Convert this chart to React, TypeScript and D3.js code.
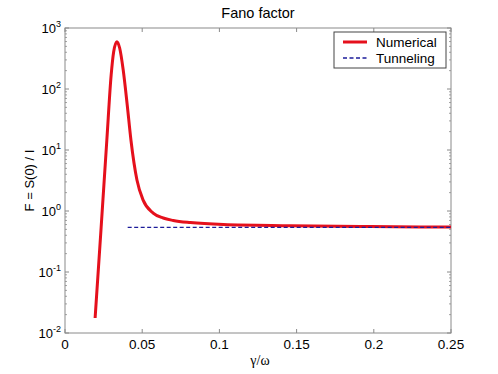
import React from 'react';
import * as d3 from 'd3';

const W = 498;
const H = 374;
const M = { top: 28, right: 47, bottom: 41, left: 65 };

// numerical Fano factor (gamma/omega, F)
const numX = [0.0195, 0.0233, 0.0271, 0.0299, 0.0315, 0.0336, 0.0354, 0.0377, 0.0403, 0.0427, 0.0466, 0.0506, 0.0571, 0.0636, 0.0701, 0.0812, 0.1026, 0.146, 0.198, 0.25];
const numF = [0.0176, 0.49, 14.6, 170, 405, 596, 470, 205, 54.7, 14.6, 3.22, 1.51, 0.927, 0.767, 0.7, 0.645, 0.6, 0.575, 0.555, 0.545];

// tunneling limit
const tunX = [0.0406, 0.25];
const tunF = [0.537, 0.537];

const xTicks = [0, 0.05, 0.1, 0.15, 0.2, 0.25];
const xTickLabels = ['0', '0.05', '0.1', '0.15', '0.2', '0.25'];
const yExponents = [-2, -1, 0, 1, 2, 3];

const legendItems = ['Numerical', 'Tunneling'];

const FONT = '"Liberation Sans", Arial, sans-serif';
const AXIS = '#8a8a8a';
const RED = '#e5101c';
const BLUE = '#1c1c9a';

export default function App() {
  const innerW = W - M.left - M.right;
  const innerH = H - M.top - M.bottom;
  const x = d3.scaleLinear().domain([0, 0.25]).range([0, innerW]);
  const y = d3.scaleLog().domain([0.01, 1000]).range([innerH, 0]);

  const line = d3.line<number>()
    .x((_, i) => x(numX[i]))
    .y(d => y(d))
    .curve(d3.curveMonotoneX);
  const tunLine = d3.line<number>()
    .x((_, i) => x(tunX[i]))
    .y(d => y(d));

  const minor: number[] = [];
  for (let e = -2; e < 3; e++) {
    for (let k = 2; k <= 9; k++) minor.push(k * Math.pow(10, e));
  }

  return (
    <svg width={W} height={H} style={{ position: 'absolute', left: 0, top: 0, background: '#fff' }} fontFamily={FONT}>
      <text x={M.left + innerW / 2} y={18} textAnchor="middle" fontSize={14.5} fill="#000">Fano factor</text>
      <g transform={`translate(${M.left},${M.top})`}>
        {/* frame */}
        <rect x={0} y={0} width={innerW} height={innerH} fill="none" stroke={AXIS} strokeWidth={1} />
        {/* x ticks */}
        {xTicks.map((t, i) => (
          <g key={'x' + i}>
            <line x1={x(t)} x2={x(t)} y1={innerH} y2={innerH - 4} stroke={AXIS} />
            <line x1={x(t)} x2={x(t)} y1={0} y2={4} stroke={AXIS} />
            <text x={x(t)} y={innerH + 16} textAnchor="middle" fontSize={13.5} fill="#000">{xTickLabels[i]}</text>
          </g>
        ))}
        {/* y ticks */}
        {yExponents.map(e => (
          <g key={'y' + e}>
            <line x1={0} x2={4} y1={y(Math.pow(10, e))} y2={y(Math.pow(10, e))} stroke={AXIS} />
            <line x1={innerW} x2={innerW - 4} y1={y(Math.pow(10, e))} y2={y(Math.pow(10, e))} stroke={AXIS} />
            <text x={-4} y={y(Math.pow(10, e)) + 5} textAnchor="end" fontSize={13} fill="#000">
              10<tspan dy={-6} fontSize={9}>{e}</tspan>
            </text>
          </g>
        ))}
        {minor.map((v, i) => (
          <g key={'m' + i}>
            <line x1={0} x2={2} y1={y(v)} y2={y(v)} stroke={AXIS} strokeWidth={0.8} />
            <line x1={innerW} x2={innerW - 2} y1={y(v)} y2={y(v)} stroke={AXIS} strokeWidth={0.8} />
          </g>
        ))}
        {/* series */}
        <path d={line(numF) || ''} fill="none" stroke={RED} strokeWidth={3} strokeLinejoin="round" />
        <path d={tunLine(tunF) || ''} fill="none" stroke={BLUE} strokeWidth={1.3} strokeDasharray="4,2.5" />
        {/* axis labels */}
        <text x={innerW / 2 + 2} y={innerH + 32} textAnchor="middle" fontSize={14} fontFamily='"Liberation Serif", "Times New Roman", serif' fill="#000">γ/ω</text>
        <text transform={`translate(${-31},${innerH / 2}) rotate(-90)`} textAnchor="middle" fontSize={13} fill="#000">F = S(0) / I</text>
        {/* legend */}
        <g transform={`translate(${334 - M.left},${32 - M.top})`}>
          <rect x={0} y={0} width={112} height={36} fill="#fff" stroke="#444" strokeWidth={1} />
          <line x1={9} x2={33} y1={10} y2={10} stroke={RED} strokeWidth={3} />
          <line x1={9} x2={33} y1={26} y2={26} stroke={BLUE} strokeWidth={1.3} strokeDasharray="4,2.5" />
          {legendItems.map((t, i) => (
            <text key={t} x={42} y={15 + i * 16} fontSize={13.5} fill="#000">{t}</text>
          ))}
        </g>
      </g>
    </svg>
  );
}
